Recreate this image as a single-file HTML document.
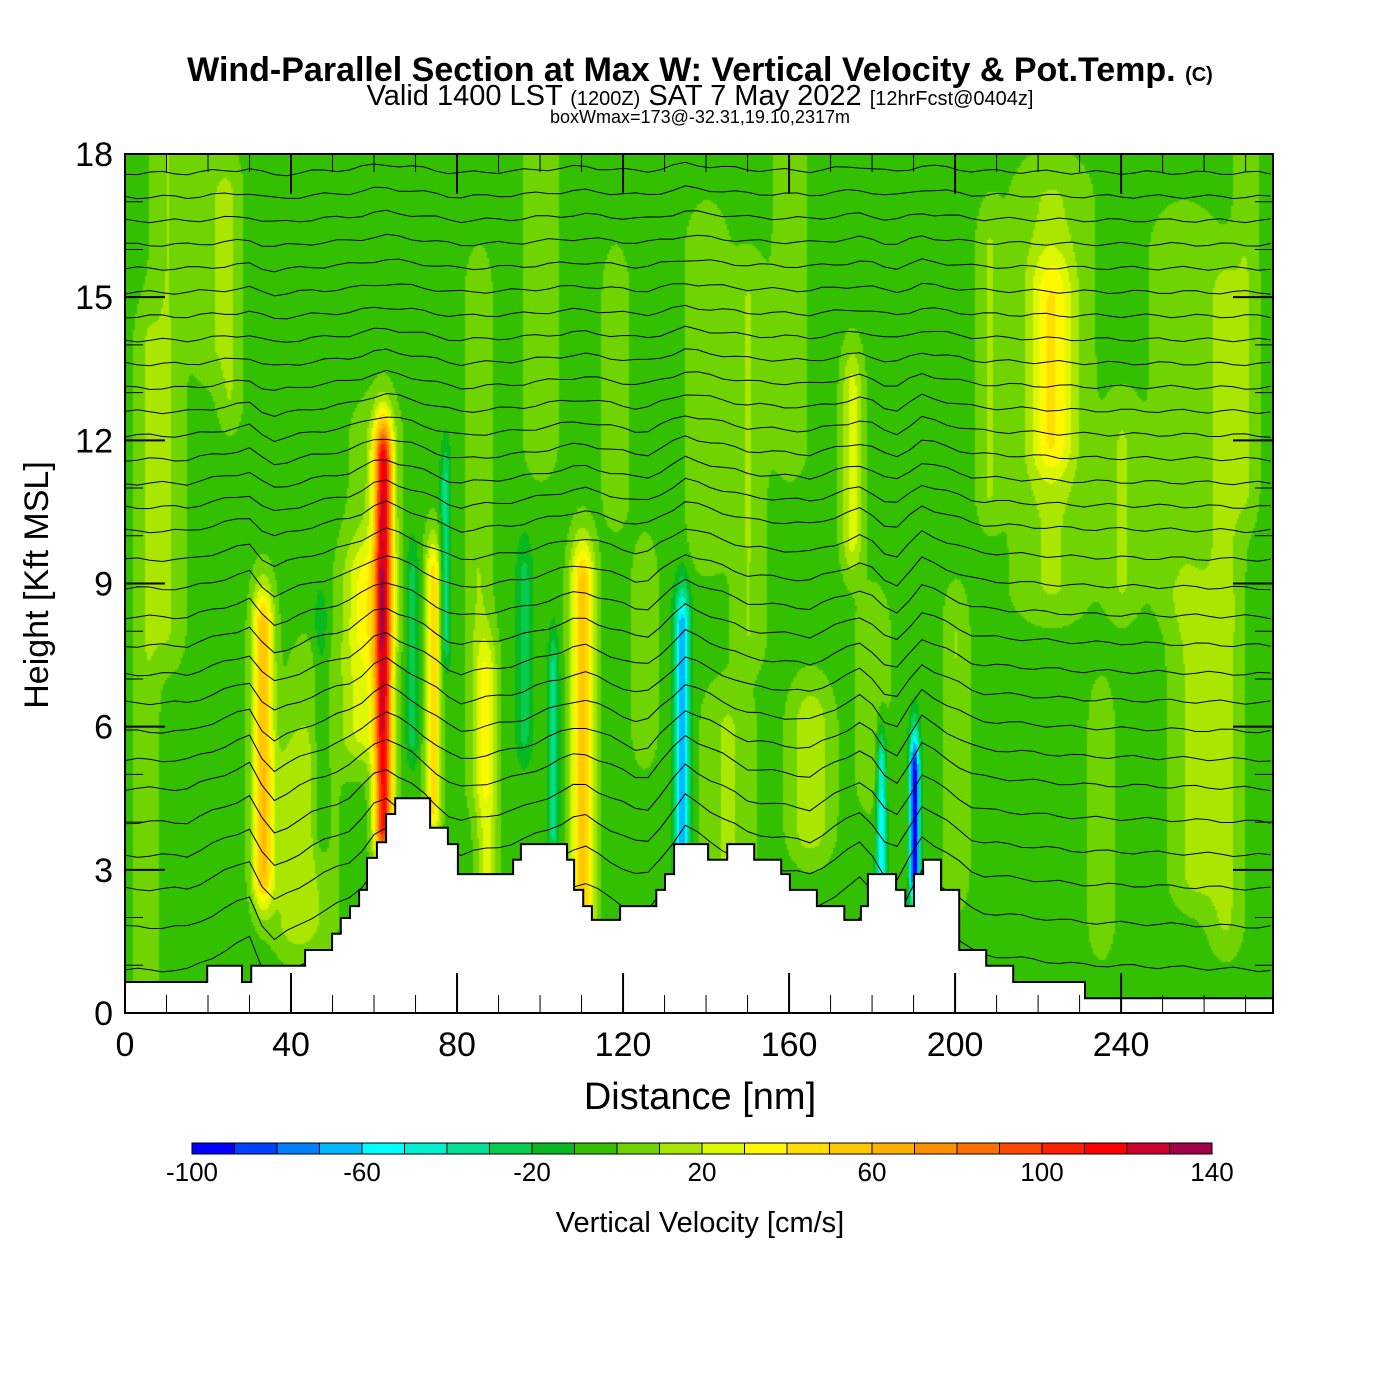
<!DOCTYPE html>
<html><head><meta charset="utf-8"><style>
body{margin:0;background:#fff;width:1400px;height:1400px;overflow:hidden;font-family:"Liberation Sans",sans-serif}
#wrap{position:relative;width:1400px;height:1400px}
canvas{position:absolute;left:125px;top:154px}
svg{position:absolute;left:0;top:0}
</style></head><body><div id="wrap">
<canvas id="cv" width="1148" height="859"></canvas>
<svg id="sv" width="1400" height="1400">
<text x="700" y="81" text-anchor="middle" font-size="34" font-weight="bold">Wind-Parallel Section at Max W: Vertical Velocity &amp; Pot.Temp. <tspan font-size="20">(C)</tspan></text>
<text x="700" y="105" text-anchor="middle" font-size="29">Valid 1400 LST <tspan font-size="20">(1200Z)</tspan> SAT 7 May 2022 <tspan font-size="20">[12hrFcst@0404z]</tspan></text>
<text x="700" y="123" text-anchor="middle" font-size="18">boxWmax=173@-32.31,19.10,2317m</text>
<text x="700" y="1109" text-anchor="middle" font-size="38">Distance [nm]</text>
<text transform="translate(48,585) rotate(-90)" text-anchor="middle" font-size="34">Height [Kft MSL]</text>
<text x="700" y="1232" text-anchor="middle" font-size="29">Vertical Velocity [cm/s]</text>
<g id="contours"></g>
<g id="terrain"></g>
<g id="axes"></g>
<g id="cbar"></g>
</svg></div>
<script>
// ---- data ----
const colors=["#0000ff","#0040ff","#0080ff","#00b8ff","#00ffff","#00f0d0","#00e090","#08cc50","#08b820","#33c000","#70d400","#aae600","#ddf800","#fff800","#ffdd00","#ffc800","#ffb000","#ff9000","#ff7000","#ff4800","#ff2000","#ff0000","#d0002c","#a00048"];
const cbarLabels=[-100,-60,-20,20,60,100,140];
const xTicks=[0,40,80,120,160,200,240];
const yTicks=[0,3,6,9,12,15,18];
const background=-4;
const plumeX=[33,62,74,110,57,87,175,223,223,258,165,40,145,134,190,182,103,77,69,10,25,85,118,150,200,208,240,265,47,125,96,235,5,45,60,140,180,255,270,100,20,160];
const plumeW=[2.5,2.2,1.8,2.8,5,2.5,2.5,5,9,6,5,5,6,1.8,1.2,1.2,1.3,1.2,1.5,4,3,3,3,4,3,3,4,4,2,3,2,3,3,6,6,5,4,8,3,4,4,4];
const plumeBot=[3,4,4.5,2.2,6,3,10,12,9,3,4,2,3,3.5,3,3,4,8,6,8,13,5,11,8,3,11,9,2,4,6,6,2,0,2,8,10,5,9,11,12,14,12];
const plumeTop=[8,11.5,9,9,9,7,13,15,17,8,6,5,6,8,5,5,7,11,9,18,17,15,15,15,8,16,12,15,8,9,9,6,14,7,12,16,8,16,18,18,18,18];
const plumePeak=[62,115,52,58,28,28,28,30,15,18,22,15,15,-65,-95,-55,-32,-30,-22,14,14,14,14,14,14,14,14,15,-15,13,-20,13,12,12,12,12,12,12,12,12,12,12];
const terrX=[0,19.8,28.2,30.4,43.4,49.9,52,54.2,56.4,58.3,60.7,62.9,65.1,73.5,77.8,80.2,93.5,95.4,106.5,108.2,110.4,112.5,119.3,128,130.1,132.3,140.5,145.1,151.6,158.1,160.2,166.7,173.3,177.3,179,185.8,188,190.1,192.3,196.6,201,207.5,214,231.3];
const terrH=[0.65,0.99,0.65,0.99,1.32,1.66,1.99,2.24,2.58,3.25,3.58,4.17,4.5,3.88,3.54,2.91,3.21,3.54,3.21,2.58,2.24,1.95,2.24,2.58,2.91,3.54,3.21,3.54,3.21,2.91,2.58,2.24,1.95,2.24,2.91,2.58,2.24,2.91,3.21,2.58,1.32,0.99,0.65,0.31];
const thetaBase=[0.9,1.8,2.6,3.3,4.0,4.7,5.3,5.9,6.5,7.1,7.7,8.3,8.9,9.5,10.1,10.6,11.1,11.6,12.1,12.6,13.1,13.6,14.1,14.6,15.1,15.6,16.1,16.6,17.1,17.6];
const pertX=[0,15,30,35,45,55,62,70,80,95,110,125,135,150,165,178,185,192,205,230,276];
const pertY=[0,0,0.6,-0.3,0.2,0.6,1.3,0.8,0,0.3,0.9,0.2,1.3,0.5,0.3,1.0,0,1.1,0.3,0.1,0];
// ---- scales ----
const X0=125,X1=1273,Y0=1013,Y1=154,XMAX=276.6,YMAX=18;
const sx=v=>X0+v/XMAX*(X1-X0), sy=v=>Y0-v/YMAX*(Y0-Y1);
const NS="http://www.w3.org/2000/svg";
function mk(t,a,p){const e=document.createElementNS(NS,t);for(const k in a)e.setAttribute(k,a[k]);p.appendChild(e);return e;}
// ---- heatmap ----
const ctx=document.getElementById('cv').getContext('2d');
const W=1148,H=859,S=2;
for(let py=0;py<H;py+=S){const h=(Y0-(154+py))/(Y0-Y1)*YMAX;
 for(let px=0;px<W;px+=S){const x=px/(W)*XMAX;let v=background;
  for(let i=0;i<plumeX.length;i++){const dx=(x-plumeX[i])/plumeW[i];if(Math.abs(dx)>3)continue;
   let fy=1;if(h<plumeBot[i])fy=Math.exp(-Math.pow((plumeBot[i]-h)/0.8,2));else if(h>plumeTop[i])fy=Math.exp(-Math.pow((h-plumeTop[i])/1.0,2));
   v+=plumePeak[i]*Math.exp(-dx*dx)*fy;}
  let b=Math.floor((v+100)/10);b=Math.max(0,Math.min(23,b));
  ctx.fillStyle=colors[b];ctx.fillRect(px,py,S,S);}}
// ---- contours ----
function pert(x){for(let i=0;i<pertX.length-1;i++){if(x>=pertX[i]&&x<=pertX[i+1]){const t=(x-pertX[i])/(pertX[i+1]-pertX[i]);return pertY[i]+t*(pertY[i+1]-pertY[i]);}}return 0;}
const cg=document.getElementById('contours');
thetaBase.forEach((b,j)=>{const amp=Math.max(0.15,1.2-b/14);let d="";
 for(let x=0;x<=XMAX;x+=3){const y=b+pert(x)*amp+0.04*Math.sin(x*0.5+j);d+=(x?"L":"M")+sx(x).toFixed(1)+","+sy(Math.min(18,y)).toFixed(1);}
 const p=mk('path',{d:d,fill:'none',stroke:'#000','stroke-width':1},cg);
 
 });
// ---- terrain ----
let td="M"+sx(0)+","+sy(0);
for(let i=0;i<terrX.length;i++){const xe=i<terrX.length-1?terrX[i+1]:XMAX;td+="L"+sx(terrX[i]).toFixed(1)+","+sy(terrH[i]).toFixed(1)+"L"+sx(xe).toFixed(1)+","+sy(terrH[i]).toFixed(1);}
td+="L"+sx(XMAX)+","+sy(0)+"Z";
const tp=mk('path',{d:td,fill:'#fff',stroke:'#000','stroke-width':2},document.getElementById('terrain'));


// ---- axes ----
const ag=document.getElementById('axes');
mk('rect',{x:X0,y:Y1,width:X1-X0,height:Y0-Y1,fill:'none',stroke:'#000','stroke-width':2},ag);
for(let v=0;v<=270;v+=10){const L=v%40===0?40:18,x=sx(v);
 mk('line',{x1:x,y1:Y0,x2:x,y2:Y0-L,stroke:'#000','stroke-width':v%40===0?2:1},ag);
 mk('line',{x1:x,y1:Y1,x2:x,y2:Y1+L,stroke:'#000','stroke-width':v%40===0?2:1},ag);}
for(let v=0;v<=18;v++){const L=v%3===0?40:18,y=sy(v);
 mk('line',{x1:X0,y1:y,x2:X0+L,y2:y,stroke:'#000','stroke-width':v%3===0?2:1},ag);
 mk('line',{x1:X1,y1:y,x2:X1-L,y2:y,stroke:'#000','stroke-width':v%3===0?2:1},ag);}
xTicks.forEach(v=>{const t=mk('text',{x:sx(v),y:1056,'text-anchor':'middle','font-size':34},ag);t.textContent=v;
 
 });
yTicks.forEach(v=>{const t=mk('text',{x:113,y:sy(v)+12,'text-anchor':'end','font-size':34},ag);t.textContent=v;
 
 });
// ---- colorbar ----
const cb=document.getElementById('cbar');const bw=(1212-192)/colors.length;
colors.forEach((c,i)=>{const r=mk('rect',{x:192+i*bw,y:1143,width:bw,height:11,fill:c,stroke:'#000','stroke-width':1},cb);
 
 });
cbarLabels.forEach(v=>{const t=mk('text',{x:192+(v+100)/10*bw,y:1181,'text-anchor':'middle','font-size':26},cb);t.textContent=v;
 
 });
</script></body></html>
